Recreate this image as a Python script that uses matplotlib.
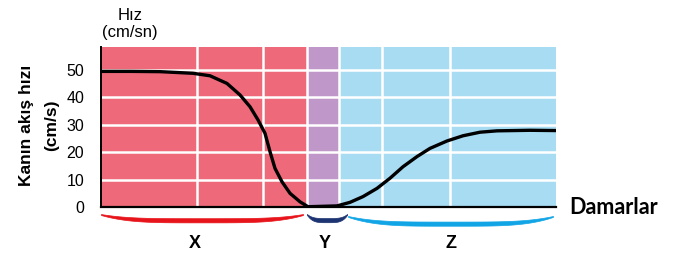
import numpy as np
import matplotlib
matplotlib.use("Agg")
from matplotlib import pyplot as plt

plt.rcParams["font.family"] = ["Liberation Sans", "DejaVu Sans"]

# vessel regions (x in arbitrary position units along the vessel system)
regions = ["X", "Y", "Z"]
region_edges = [(0, 20.6), (20.6, 23.8), (23.8, 45.5)]
region_colors = ["#ee6a7a", "#bf97c8", "#a7dcf2"]
brace_colors = ["#e8141b", "#1d3472", "#12a5e6"]
vgrid_x = [9.6, 16.2, 20.6, 23.8, 28.1, 34.9]

# blood flow speed curve (cm/s)
pos = [0, 3.0, 5.9, 9.2, 10.9, 12.6, 13.9, 14.9, 15.7, 16.4, 16.9, 17.4, 18.1, 18.9,
       19.9, 20.7, 23.6, 24.9, 26.2, 27.6, 28.9, 30.2, 31.6, 32.9, 34.6, 36.2, 37.9,
       39.6, 42.9, 45.5]
speed = [49.5, 49.5, 49.4, 48.8, 47.9, 45.1, 40.9, 36.6, 31.8, 26.9, 20.2, 14.1, 9.2,
         5.0, 1.9, 0.1, 0.4, 1.7, 3.8, 6.8, 10.5, 14.7, 18.4, 21.4, 24.1, 26.0, 27.3,
         27.8, 28.0, 27.9]
yticks = [0, 10, 20, 30, 40, 50]

fig = plt.figure(figsize=(6.76, 2.56), dpi=100)
ax = fig.add_axes([0.1494, 0.1914, 0.6731, 0.625])

for (a, b), c in zip(region_edges, region_colors):
    ax.axvspan(a, b, color=c, lw=0, zorder=0)
for yv in yticks[1:]:
    ax.axhline(yv, color="white", lw=1.8, zorder=1)
for xv in vgrid_x:
    ax.axvline(xv, color="white", lw=1.8, zorder=1)

ax.plot(pos, speed, color="black", lw=2.4, zorder=3, solid_capstyle="round",
        solid_joinstyle="round")

ax.set_xlim(0, 45.5)
ax.set_ylim(0, 58.4)
ax.set_yticks(yticks)
ax.set_xticks([])
ax.tick_params(axis="y", length=0, pad=12, labelsize=11.5)
for s in ["top", "right"]:
    ax.spines[s].set_visible(False)
ax.spines["left"].set_linewidth(1.4)
ax.spines["bottom"].set_linewidth(1.6)
ax.spines["bottom"].set_zorder(4)

# braces under each region
trans = ax.get_xaxis_transform()
brace_x = [(0.0, 20.2), (20.6, 24.6), (24.7, 45.2)]
brace_top = [0.044, 0.044, 0.056]
brace_dip = [0.026, 0.025, 0.035]
label_x = [9.4, 22.4, 35.0]
for (a, b), c, top, dip, lx, lab in zip(brace_x, brace_colors, brace_top, brace_dip,
                                         label_x, regions):
    t = np.linspace(0, 1, 120)
    f = 1 - np.abs(2 * t - 1) ** 4
    xs = a + (b - a) * t
    upper = -top - dip * f
    lower = -top - dip * f - 0.006 - 0.02 * f
    ax.fill_between(xs, lower, upper, color=c, transform=trans, clip_on=False,
                    lw=0.5, edgecolor=c)
    ax.text(lx, -0.225, lab, transform=trans, ha="center", va="center",
            fontsize=13, fontweight="bold")

fig.text(0.9075, 0.191, "Damarlar", family=["Lato", "DejaVu Sans"], fontweight="bold",
         fontsize=15.5, ha="center", va="center")
fig.text(0.0575, 0.51, "Kanın akış hızı\n(cm/s)", rotation=90, fontweight="bold",
         fontsize=12.5, ha="center", va="center", linespacing=1.85)
fig.text(0.1923, 0.906, "Hız\n(cm/sn)", fontsize=12, ha="center", va="center",
         linespacing=1.2)

fig.savefig("out.png", dpi=100)
